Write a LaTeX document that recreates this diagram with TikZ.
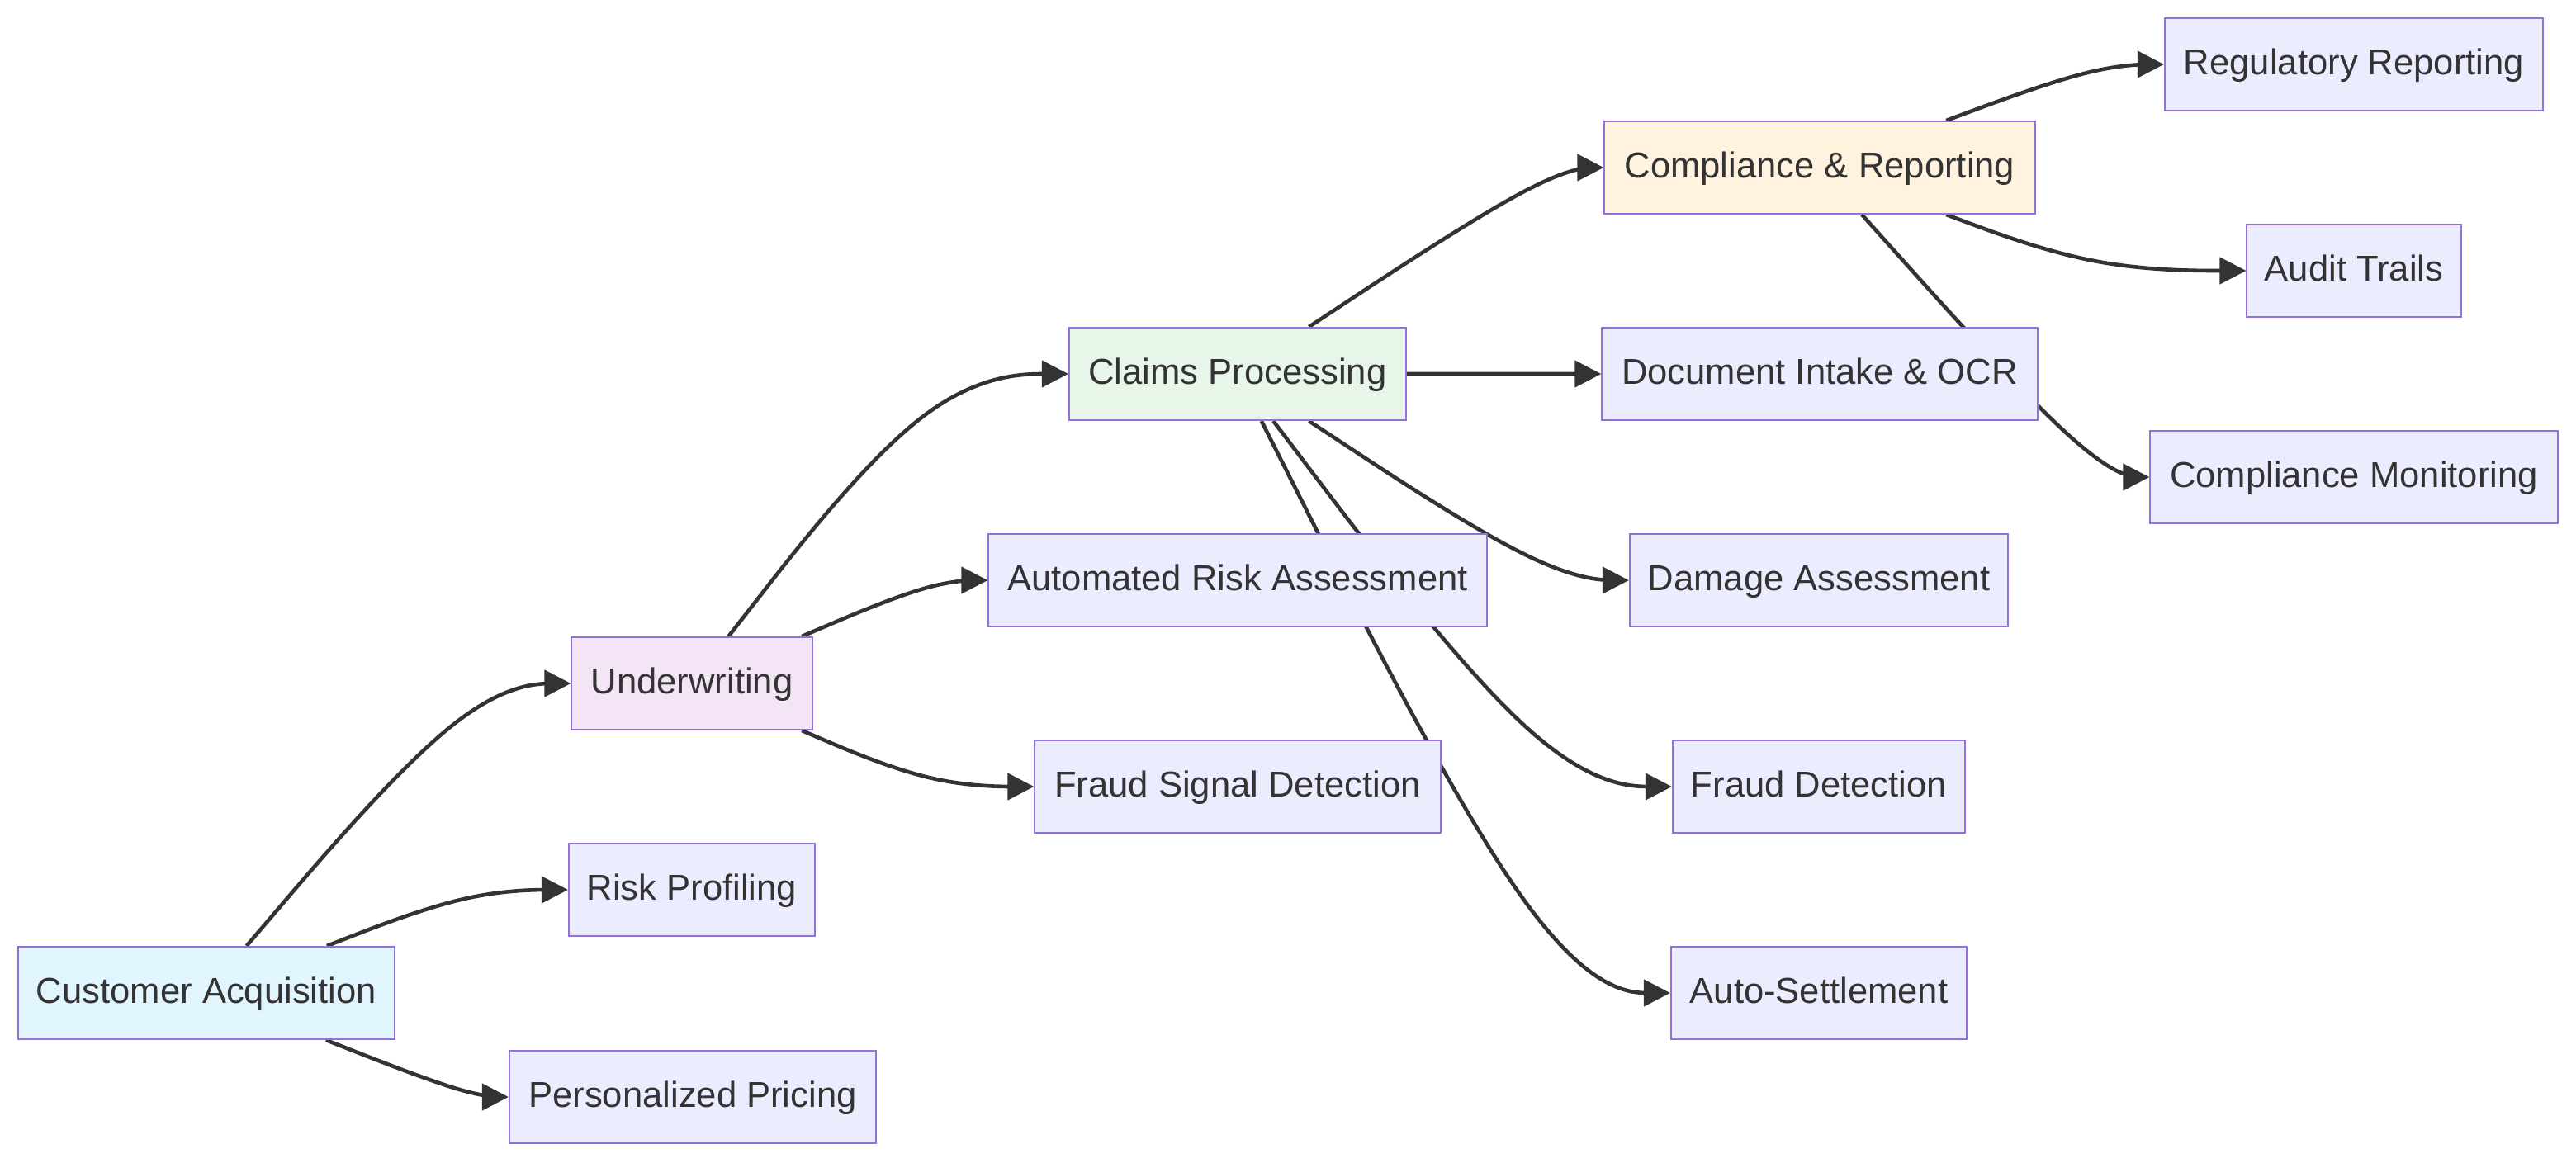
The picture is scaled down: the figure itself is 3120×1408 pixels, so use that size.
\documentclass[tikz,border=0pt]{standalone}
\usepackage{fontspec}
\setmainfont{Liberation Sans}
\usetikzlibrary{arrows.meta,calc}
\pgfdeclarelayer{bg}
\pgfsetlayers{bg,main}
\definecolor{txt}{HTML}{333333}
\definecolor{bord}{HTML}{9370DB}
\definecolor{defill}{HTML}{ECECFF}
\definecolor{cafill}{HTML}{E1F5FE}
\definecolor{uwfill}{HTML}{F3E5F5}
\definecolor{clfill}{HTML}{E8F5E9}
\definecolor{cofill}{HTML}{FFF3E0}
\definecolor{edgec}{HTML}{333333}
\newcommand\bedge[3]{%
  \path (#1) -- (#2) coordinate[pos=0] (bS);
  \path (#2) -- (#3) coordinate[pos=1] (bE);
  \draw[edge] (#1) -- ($(bS)!0.16667!(#2)$)
    .. controls ($(bS)!0.33333!(#2)$) and ($(bS)!0.66667!(#2)$)
    .. ($0.16667*(bS)+0.66667*(#2)+0.16667*(bE)$)
    .. controls ($(#2)!0.33333!(bE)$) and ($(#2)!0.66667!(bE)$)
    .. ($(#2)!0.83333!(bE)$) -- (#3);}
\tikzset{
  box/.style={draw=bord, line width=0.02cm, fill=defill, text=txt,
    minimum height=1.12cm, inner sep=0pt, text height=0.716em, text depth=0pt,
    font=\fontsize{12.4}{15}\selectfont},
  edge/.style={draw=edgec, line width=0.046cm,
    -{Triangle[length=0.32cm,width=0.32cm]}}
}
\begin{document}
\begin{tikzpicture}[x=0.01cm,y=-0.01cm]
\useasboundingbox (0,0) rectangle (3120,1408);
\begin{pgfonlayer}{bg}
\fill[white] (0,0) rectangle (3120,1408);
\end{pgfonlayer}
% nodes
\node[box, minimum width=4.58cm] (rr) at (2851,78) {Regulatory Reporting};
\node[box, fill=cofill, minimum width=5.21cm] (co) at (2204,203) {Compliance \& Reporting};
\node[box, minimum width=2.59cm] (audit) at (2851,328) {Audit Trails};
\node[box, fill=clfill, minimum width=4.08cm] (cl) at (1499,453) {Claims Processing};
\node[box, minimum width=5.27cm] (doc) at (2204,453) {Document Intake \& OCR};
\node[box, minimum width=4.93cm] (cm) at (2851,578) {Compliance Monitoring};
\node[box, minimum width=6.03cm] (ara) at (1499,703) {Automated Risk Assessment};
\node[box, minimum width=4.58cm] (dmg) at (2203,703) {Damage Assessment};
\node[box, fill=uwfill, minimum width=2.91cm] (uw) at (838,828) {Underwriting};
\node[box, minimum width=4.91cm] (fsd) at (1499,953) {Fraud Signal Detection};
\node[box, minimum width=3.54cm] (fd) at (2203,953) {Fraud Detection};
\node[box, minimum width=2.98cm] (rp) at (838,1078) {Risk Profiling};
\node[box, fill=cafill, minimum width=4.56cm] (ca) at (250,1203) {Customer Acquisition};
\node[box, minimum width=3.58cm] (aset) at (2203,1203) {Auto-Settlement};
\node[box, minimum width=4.44cm] (pp) at (839,1329) {Personalized Pricing};
% bend points of the connectors
\coordinate (m1) at (570,828);
\coordinate (m2) at (570,1078);
\coordinate (m3) at (570,1329);
\coordinate (m4) at (1130,453);
\coordinate (m5) at (1130,703);
\coordinate (m6) at (1130,953);
\coordinate (m7) at (1878,203);
\coordinate (m8) at (1878,453);
\coordinate (m9) at (1878,703);
\coordinate (m10) at (1878,953);
\coordinate (m11) at (1878,1203);
\coordinate (m12) at (2540,78);
\coordinate (m13) at (2540,328);
\coordinate (m14) at (2540,578);
\begin{pgfonlayer}{bg}
\bedge{ca}{m1}{uw}
\bedge{ca}{m2}{rp}
\bedge{ca}{m3}{pp}
\bedge{uw}{m4}{cl}
\bedge{uw}{m5}{ara}
\bedge{uw}{m6}{fsd}
\bedge{cl}{m7}{co}
\bedge{cl}{m8}{doc}
\bedge{cl}{m9}{dmg}
\bedge{cl}{m10}{fd}
\bedge{cl}{m11}{aset}
\bedge{co}{m12}{rr}
\bedge{co}{m13}{audit}
\bedge{co}{m14}{cm}
\end{pgfonlayer}
\end{tikzpicture}
\end{document}
